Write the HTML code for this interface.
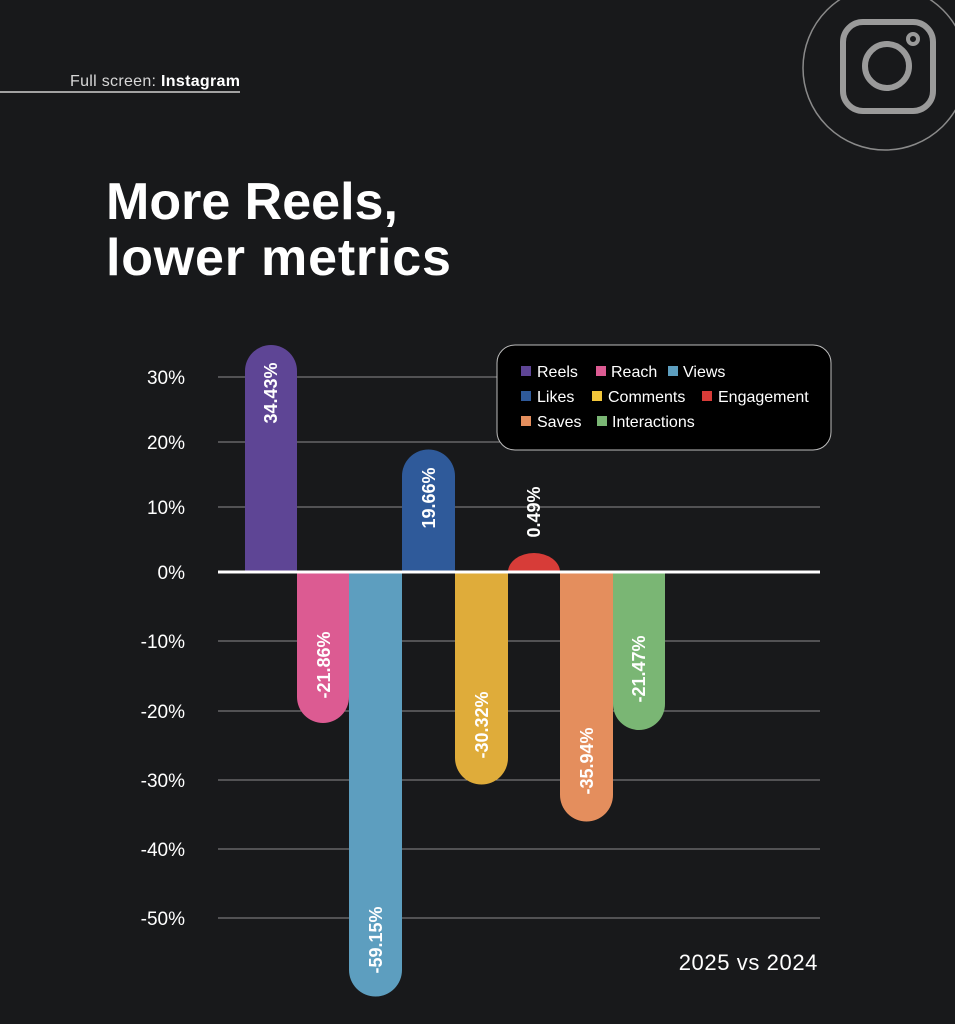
<!DOCTYPE html>
<html><head><meta charset="utf-8"><style>
html,body{margin:0;padding:0;background:#18191b;}
body{width:955px;height:1024px;overflow:hidden;position:relative;font-family:"Liberation Sans",sans-serif;}
</style></head><body>
<svg width="955" height="1024" xmlns="http://www.w3.org/2000/svg" style="position:absolute;left:0;top:0">
<rect width="955" height="1024" fill="#18191b"/>
<text x="70" y="86" fill="#d8d8d8" font-size="16" font-family="Liberation Sans, sans-serif" letter-spacing="0.3">Full screen: <tspan font-weight="bold" fill="#fff">Instagram</tspan></text>
<line x1="0" y1="92" x2="240" y2="92" stroke="#cfcfcf" stroke-width="1.5"/>
<circle cx="885" cy="68" r="82" fill="none" stroke="#8a8a8a" stroke-width="1.5"/>
<rect x="843" y="22" width="90" height="89" rx="20" fill="none" stroke="#9a9a9a" stroke-width="6"/>
<circle cx="887" cy="66" r="22" fill="none" stroke="#9a9a9a" stroke-width="6"/>
<circle cx="913" cy="39" r="5" fill="none" stroke="#9a9a9a" stroke-width="4"/>
<text x="106" y="219" fill="#fff" font-size="52" font-weight="bold" font-family="Liberation Sans, sans-serif">More Reels,</text>
<text x="106" y="275" fill="#fff" font-size="52" font-weight="bold" font-family="Liberation Sans, sans-serif" letter-spacing="0.8">lower metrics</text>
<g stroke="#8c8c8c" stroke-width="1">
<line x1="218" y1="377" x2="820" y2="377"/>
<line x1="218" y1="442" x2="820" y2="442"/>
<line x1="218" y1="507" x2="820" y2="507"/>
<line x1="218" y1="641" x2="820" y2="641"/>
<line x1="218" y1="711" x2="820" y2="711"/>
<line x1="218" y1="780" x2="820" y2="780"/>
<line x1="218" y1="849" x2="820" y2="849"/>
<line x1="218" y1="918" x2="820" y2="918"/>
</g>
<g fill="#fff" font-size="19" text-anchor="end" font-family="Liberation Sans, sans-serif">
<text x="185" y="384">30%</text><text x="185" y="449">20%</text><text x="185" y="514">10%</text>
<text x="185" y="579">0%</text><text x="185" y="648">-10%</text><text x="185" y="718">-20%</text>
<text x="185" y="787">-30%</text><text x="185" y="856">-40%</text><text x="185" y="925">-50%</text>
</g>
<path d="M245 572 V371 A26 26 0 0 1 297 371 V572Z" fill="#5e4595"/>
<path d="M297 572 V697 A26 26 0 0 0 349 697 V572Z" fill="#dc5b92"/>
<path d="M349 572 V970 A26 26 0 0 0 402 970 V572Z" fill="#5d9ebf"/>
<path d="M402 572 V476 A26.5 26.5 0 0 1 455 476 V572Z" fill="#2f5a9a"/>
<path d="M455 572 V758 A26.5 26.5 0 0 0 508 758 V572Z" fill="#dfac3a"/>
<path d="M508 572 A26 19 0 0 1 560 572Z" fill="#d73c38"/>
<path d="M560 572 V795 A26.5 26.5 0 0 0 613 795 V572Z" fill="#e48e5d"/>
<path d="M613 572 V704 A26 26 0 0 0 665 704 V572Z" fill="#7ab674"/>
<line x1="218" y1="572" x2="820" y2="572" stroke="#fff" stroke-width="3"/>
<g fill="#fff" font-size="18" font-weight="bold" font-family="Liberation Sans, sans-serif" text-anchor="middle">
<text transform="translate(277,393) rotate(-90)">34.43%</text>
<text transform="translate(330,665) rotate(-90)">-21.86%</text>
<text transform="translate(382,940) rotate(-90)">-59.15%</text>
<text transform="translate(435,498) rotate(-90)">19.66%</text>
<text transform="translate(488,725) rotate(-90)">-30.32%</text>
<text transform="translate(540,512) rotate(-90)">0.49%</text>
<text transform="translate(593,761) rotate(-90)">-35.94%</text>
<text transform="translate(645,669) rotate(-90)">-21.47%</text>
</g>
<rect x="497" y="345" width="334" height="105" rx="18" fill="#000" stroke="#bdbdbd" stroke-width="1"/>
<g font-size="16" fill="#fff" font-family="Liberation Sans, sans-serif">
<rect x="521" y="366" width="10" height="10" fill="#5e4595"/><text x="537" y="377">Reels</text>
<rect x="596" y="366" width="10" height="10" fill="#dc5b92"/><text x="611" y="377">Reach</text>
<rect x="668" y="366" width="10" height="10" fill="#5d9ebf"/><text x="683" y="377">Views</text>
<rect x="521" y="391" width="10" height="10" fill="#2f5a9a"/><text x="537" y="402">Likes</text>
<rect x="592" y="391" width="10" height="10" fill="#f2c63a"/><text x="608" y="402">Comments</text>
<rect x="702" y="391" width="10" height="10" fill="#d73c38"/><text x="718" y="402">Engagement</text>
<rect x="521" y="416" width="10" height="10" fill="#e48e5d"/><text x="537" y="427">Saves</text>
<rect x="597" y="416" width="10" height="10" fill="#7ab674"/><text x="612" y="427">Interactions</text>
</g>
<text x="818" y="970" fill="#fff" font-size="22" text-anchor="end" font-family="Liberation Sans, sans-serif" letter-spacing="0.6">2025 vs 2024</text>
</svg>
</body></html>
